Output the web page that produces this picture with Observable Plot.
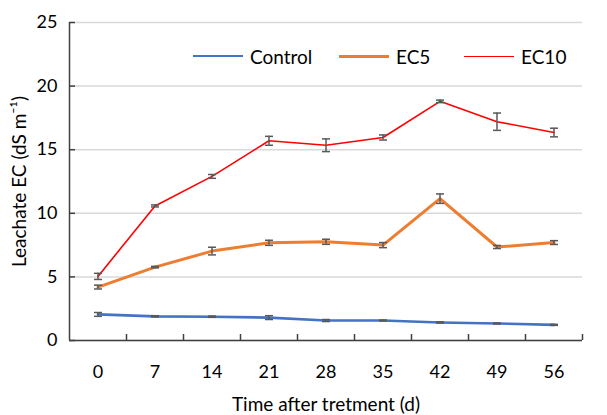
<!DOCTYPE html>
<html><head><meta charset="utf-8">
<script src="https://cdn.jsdelivr.net/npm/d3@7"></script>
<script src="https://cdn.jsdelivr.net/npm/@observablehq/plot@0.6"></script>
<style>
body{margin:0;background:#fff;font-family:Lato,sans-serif;}
#wrap{position:relative;width:607px;height:415px;}
.leg{position:absolute;top:45px;height:22px;display:flex;align-items:center;font-size:19px;color:#000;white-space:nowrap;}
.leg span.sw{display:inline-block;width:50px;margin-right:7px;}
svg g[aria-label="y-axis label"] text, svg g[aria-label="x-axis label"] text{font-size:19px;}
</style></head><body><div id="wrap"></div>
<script>
// data
const days = [0, 7, 14, 21, 28, 35, 42, 49, 56];
const control    = [2.05, 1.9, 1.87, 1.8, 1.57, 1.57, 1.42, 1.34, 1.23];
const controlErr = [0.15, 0.05, 0.05, 0.15, 0.08, 0.04, 0.05, 0.04, 0.04];
const ec5        = [4.2, 5.77, 7.03, 7.68, 7.76, 7.5, 11.15, 7.35, 7.7];
const ec5Err     = [0.15, 0.06, 0.3, 0.2, 0.2, 0.2, 0.37, 0.12, 0.15];
const ec10       = [5.04, 10.58, 12.9, 15.7, 15.35, 15.96, 18.8, 17.2, 16.35];
const ec10Err    = [0.24, 0.08, 0.15, 0.35, 0.5, 0.2, 0.1, 0.68, 0.34];
const seriesNames  = ["Control", "EC5", "EC10"];
const seriesColors = ["#4472C4", "#ED7D31", "#FF0000"];
const seriesWidths = [2.6, 3, 1.6];
const yTicks = [0, 5, 10, 15, 20, 25];
const xDomain = [-3.5, 59.5];
const xBoundaries = [3.5, 10.5, 17.5, 24.5, 31.5, 38.5, 45.5, 52.5, 59.5];

const values = [control, ec5, ec10];
const errs = [controlErr, ec5Err, ec10Err];
const rows = [];
seriesNames.forEach((s, k) => days.forEach((d, i) => rows.push({series: s, day: d, value: values[k][i], err: errs[k][i]})));

const axisColor = "#404040";
const errColor = "#595959";
const capSymbol = {draw(ctx, size) { const w = Math.sqrt(size / Math.PI); ctx.moveTo(-w, 0); ctx.lineTo(w, 0); }};

const marks = [
  Plot.gridY(yTicks, {stroke: "#d9d9d9", strokeOpacity: 1, strokeWidth: 1.5}),
  Plot.ruleX([xDomain[0]], {y1: 0, y2: 25, stroke: axisColor, strokeWidth: 1.5}),
  Plot.ruleY([0], {stroke: axisColor, strokeWidth: 1.5}),
  Plot.axisY(yTicks, {tickSize: -6, tickPadding: 18, stroke: axisColor, strokeWidth: 1.5, label: "Leachate EC (dS m⁻¹)", labelAnchor: "center", labelOffset: 57, labelArrow: "none"}),
  Plot.axisX(xBoundaries, {tickSize: -6, tickFormat: () => "", stroke: axisColor, strokeWidth: 1.5, label: null}),
  Plot.axisX(days, {tickSize: 0, tickPadding: 25, label: "Time after tretment (d)", labelAnchor: "center", labelOffset: 70, labelArrow: "none"})
];
seriesNames.forEach((s, k) => {
  const data = rows.filter(r => r.series === s);
  marks.push(Plot.line(data, {x: "day", y: "value", stroke: seriesColors[k], strokeWidth: seriesWidths[k]}));
});
marks.push(
  Plot.ruleX(rows, {x: "day", y1: d => d.value - d.err, y2: d => d.value + d.err, stroke: errColor, strokeWidth: 1.5}),
  Plot.dot(rows, {x: "day", y: d => d.value - d.err, symbol: capSymbol, r: 4, stroke: errColor, strokeWidth: 1.5, fill: "none"}),
  Plot.dot(rows, {x: "day", y: d => d.value + d.err, symbol: capSymbol, r: 4, stroke: errColor, strokeWidth: 1.5, fill: "none"})
);

const chart = Plot.plot({
  width: 607, height: 415,
  marginLeft: 69, marginRight: 25, marginTop: 22, marginBottom: 75,
  style: {fontFamily: "Lato, sans-serif", fontSize: "18px", color: "#000", background: "#fff", overflow: "visible"},
  x: {domain: xDomain},
  y: {domain: [0, 25]},
  marks
});
const wrap = document.getElementById("wrap");
wrap.appendChild(chart);

const legendLeft = [193, 339, 464];
seriesNames.forEach((s, k) => {
  const div = document.createElement("div");
  div.className = "leg";
  div.style.left = legendLeft[k] + "px";
  const sw = document.createElement("span");
  sw.className = "sw";
  sw.style.borderTop = seriesWidths[k] + "px solid " + seriesColors[k];
  div.appendChild(sw);
  div.appendChild(document.createTextNode(s));
  wrap.appendChild(div);
});
</script>
</body></html>
